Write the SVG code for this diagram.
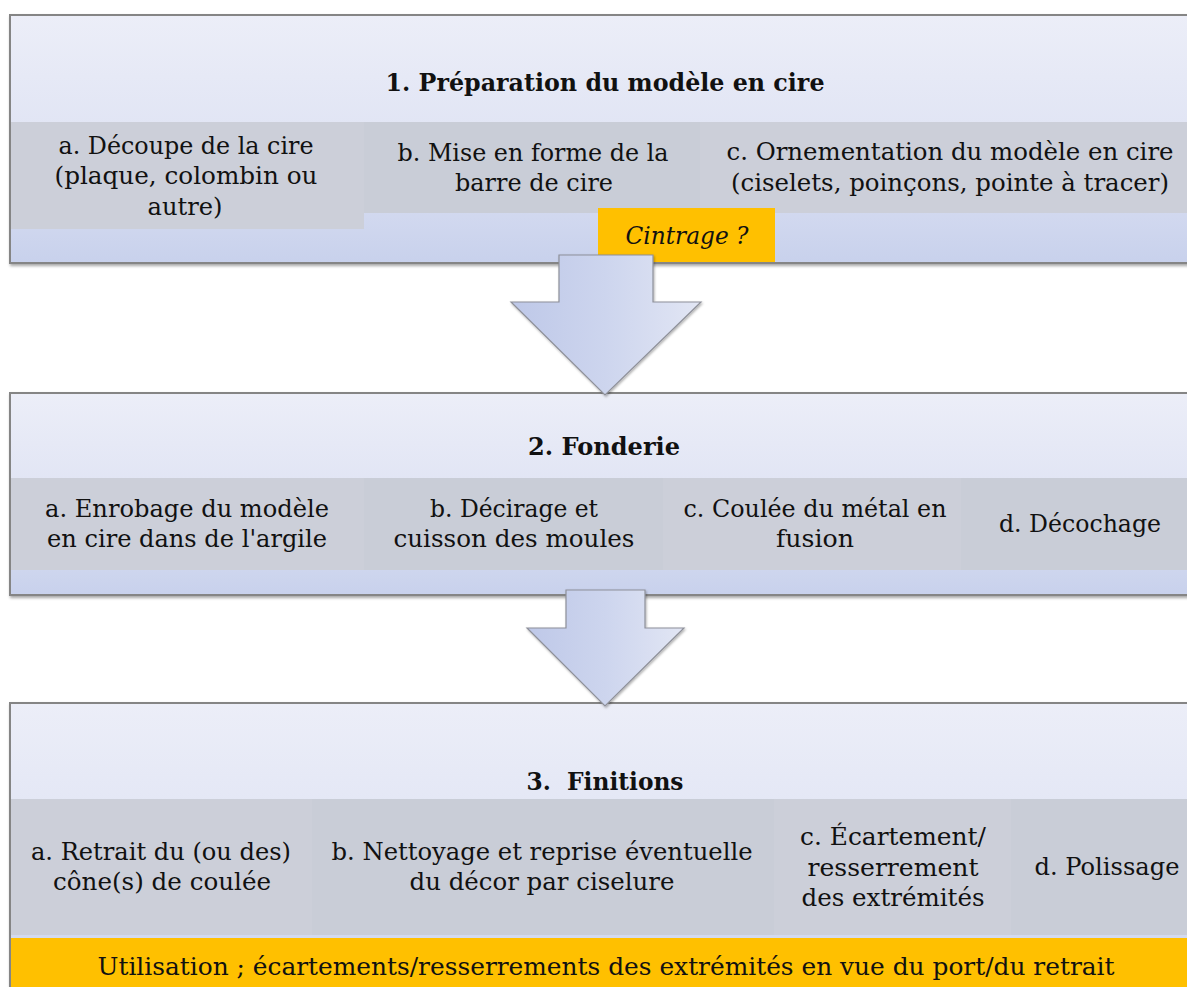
<svg xmlns="http://www.w3.org/2000/svg" width="1187" height="987" viewBox="0 0 1187 987">
<style>
.t{font-family:"DejaVu Serif","Liberation Serif",serif;font-size:24.5px;fill:#111;text-anchor:middle}
.h{font-family:"DejaVu Serif","Liberation Serif",serif;font-size:25px;font-weight:bold;fill:#111;text-anchor:middle}
.i{font-style:italic}
.box{fill:url(#bg);stroke:#858585;stroke-width:2;filter:url(#sh)}
.band{fill:#CCCFD9}
.band2{fill:#C9CDD7}
.org{fill:#FFC000}
.arr{fill:url(#ag);stroke:#8E9099;stroke-width:1.2;filter:url(#sh2)}
</style>
<defs>
<linearGradient id="bg" x1="0" y1="0" x2="0" y2="1">
<stop offset="0" stop-color="#ECEEF8"/>
<stop offset="0.5" stop-color="#E0E4F4"/>
<stop offset="1" stop-color="#C8D1EC"/>
</linearGradient>
<linearGradient id="ag" x1="0" y1="0" x2="1" y2="0">
<stop offset="0" stop-color="#BEC8E8"/>
<stop offset="0.5" stop-color="#CDD5EE"/>
<stop offset="1" stop-color="#E2E6F4"/>
</linearGradient>
<filter id="sh" x="-5%" y="-5%" width="110%" height="120%">
<feDropShadow dx="1" dy="2" stdDeviation="1.5" flood-color="#000" flood-opacity="0.35"/>
</filter>
<filter id="sh2" x="-10%" y="-10%" width="120%" height="120%">
<feDropShadow dx="1" dy="1.5" stdDeviation="1.2" flood-color="#000" flood-opacity="0.3"/>
</filter>
</defs>
<rect width="1187" height="987" fill="#fff"/>

<g id="step1">
<rect class="box" x="10" y="15" width="1190" height="248"/>
<text class="h" x="605" y="91" textLength="439" lengthAdjust="spacingAndGlyphs">1. Préparation du modèle en cire</text>
<rect class="band" x="11" y="122" width="353" height="107"/>
<rect class="band2" x="364" y="122" width="336" height="91"/>
<rect class="band" x="700" y="122" width="487" height="91"/>
<text class="t" x="186" y="154" textLength="255" lengthAdjust="spacingAndGlyphs">a. Découpe de la cire</text>
<text class="t" x="186" y="184" textLength="263" lengthAdjust="spacingAndGlyphs">(plaque, colombin ou</text>
<text class="t" x="185" y="215" textLength="75" lengthAdjust="spacingAndGlyphs">autre)</text>
<text class="t" x="533" y="161" textLength="271" lengthAdjust="spacingAndGlyphs">b. Mise en forme de la</text>
<text class="t" x="534" y="191" textLength="158" lengthAdjust="spacingAndGlyphs">barre de cire</text>
<text class="t" x="950" y="160" textLength="447" lengthAdjust="spacingAndGlyphs">c. Ornementation du modèle en cire</text>
<text class="t" x="950" y="191" textLength="438" lengthAdjust="spacingAndGlyphs">(ciselets, poinçons, pointe à tracer)</text>
<rect class="org" x="598" y="208" width="177" height="54"/>
<text class="t i" x="687" y="244" textLength="123" lengthAdjust="spacingAndGlyphs">Cintrage ?</text>
</g>

<g id="step2">
<rect class="box" x="10" y="393" width="1190" height="202"/>
<text class="h" x="604" y="455" textLength="152" lengthAdjust="spacingAndGlyphs">2. Fonderie</text>
<rect class="band" x="11" y="478" width="353" height="92"/>
<rect class="band2" x="364" y="478" width="299" height="92"/>
<rect class="band" x="663" y="478" width="298" height="92"/>
<rect class="band2" x="961" y="478" width="226" height="92"/>
<text class="t" x="187" y="517" textLength="284" lengthAdjust="spacingAndGlyphs">a. Enrobage du modèle</text>
<text class="t" x="187" y="547" textLength="280" lengthAdjust="spacingAndGlyphs">en cire dans de l'argile</text>
<text class="t" x="514" y="517" textLength="168" lengthAdjust="spacingAndGlyphs">b. Décirage et</text>
<text class="t" x="514" y="547" textLength="241" lengthAdjust="spacingAndGlyphs">cuisson des moules</text>
<text class="t" x="815" y="517" textLength="263" lengthAdjust="spacingAndGlyphs">c. Coulée du métal en</text>
<text class="t" x="815" y="547" textLength="78" lengthAdjust="spacingAndGlyphs">fusion</text>
<text class="t" x="1080" y="532" textLength="162" lengthAdjust="spacingAndGlyphs">d. Décochage</text>
</g>

<g id="step3">
<rect class="box" x="10" y="703" width="1190" height="300"/>
<text class="h" x="605" y="790" textLength="157" lengthAdjust="spacingAndGlyphs" xml:space="preserve">3.  Finitions</text>
<rect class="band" x="11" y="799" width="301" height="136"/>
<rect class="band2" x="312" y="799" width="462" height="136"/>
<rect class="band" x="774" y="799" width="237" height="136"/>
<rect class="band2" x="1011" y="799" width="176" height="136"/>
<text class="t" x="161" y="860" textLength="260" lengthAdjust="spacingAndGlyphs">a. Retrait du (ou des)</text>
<text class="t" x="162" y="890" textLength="218" lengthAdjust="spacingAndGlyphs">cône(s) de coulée</text>
<text class="t" x="542" y="860" textLength="421" lengthAdjust="spacingAndGlyphs">b. Nettoyage et reprise éventuelle</text>
<text class="t" x="542" y="890" textLength="265" lengthAdjust="spacingAndGlyphs">du décor par ciselure</text>
<text class="t" x="893" y="845" textLength="186" lengthAdjust="spacingAndGlyphs">c. Écartement/</text>
<text class="t" x="893" y="876" textLength="171" lengthAdjust="spacingAndGlyphs">resserrement</text>
<text class="t" x="893" y="906" textLength="183" lengthAdjust="spacingAndGlyphs">des extrémités</text>
<text class="t" x="1107" y="875" textLength="145" lengthAdjust="spacingAndGlyphs">d. Polissage</text>
<rect class="org" x="11" y="938" width="1176" height="49"/>
<text class="t" x="606" y="975" textLength="1017" lengthAdjust="spacingAndGlyphs">Utilisation ; écartements/resserrements des extrémités en vue du port/du retrait</text>
</g>

<g id="connectors">
<path class="arr" d="M559,255 L653,255 L653,302 L701,302 L605,395 L511,302 L559,302 Z"/>
<path class="arr" d="M566,590 L645,590 L645,628 L684,628 L605,706 L527,628 L566,628 Z"/>
</g>
</svg>
